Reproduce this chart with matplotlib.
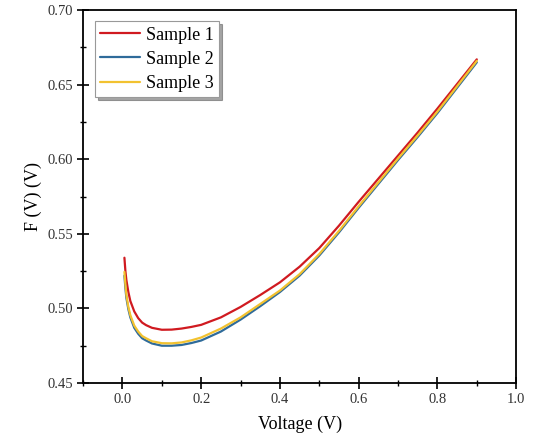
import matplotlib
matplotlib.use("Agg")
import matplotlib.pyplot as plt
from matplotlib.ticker import MultipleLocator

voltage = [0.005, 0.0075, 0.01, 0.015, 0.02, 0.03, 0.04, 0.05, 0.06, 0.075, 0.1, 0.125, 0.15, 0.175,
           0.2, 0.25, 0.3, 0.35, 0.4, 0.45, 0.5, 0.55, 0.6, 0.65, 0.7, 0.75, 0.8, 0.85, 0.9]
sample1 = [0.534, 0.525, 0.519, 0.511, 0.505, 0.498, 0.4935, 0.4905, 0.4888, 0.487, 0.4857, 0.4858,
           0.4865, 0.4876, 0.489, 0.494, 0.501, 0.509, 0.5175, 0.528, 0.5405, 0.5555, 0.5715, 0.587,
           0.6025, 0.618, 0.634, 0.6505, 0.667]
sample2 = [0.522, 0.5135, 0.507, 0.4995, 0.494, 0.487, 0.483, 0.480, 0.4785, 0.4765, 0.475, 0.4750,
           0.4755, 0.4768, 0.4785, 0.4845, 0.4925, 0.5015, 0.511, 0.522, 0.5355, 0.551, 0.5675, 0.5835,
           0.5995, 0.615, 0.631, 0.648, 0.665]
sample3 = [0.5245, 0.516, 0.509, 0.501, 0.4955, 0.4885, 0.4845, 0.4815, 0.480, 0.478, 0.4767, 0.4766,
           0.4772, 0.4786, 0.4805, 0.4865, 0.494, 0.503, 0.512, 0.523, 0.5365, 0.552, 0.5685, 0.5845,
           0.6005, 0.616, 0.632, 0.649, 0.666]

labels = ["Sample 1", "Sample 2", "Sample 3"]
colors = ["#d01a20", "#2f6b9a", "#f2c230"]

plt.rcParams["font.family"] = ["Liberation Serif", "DejaVu Serif"]

fig = plt.figure(figsize=(5.36, 4.41), dpi=100)
ax = fig.add_axes([0.155, 0.1315, 0.808, 0.8455])

for ys, lab, c in zip([sample1, sample2, sample3], labels, colors):
    ax.plot(voltage, ys, color=c, linewidth=1.6, label=lab, solid_capstyle="round")

ax.set_xlim(-0.1, 1.0)
ax.set_ylim(0.45, 0.70)
ax.xaxis.set_major_locator(MultipleLocator(0.2))
ax.xaxis.set_minor_locator(MultipleLocator(0.1))
ax.yaxis.set_major_locator(MultipleLocator(0.05))
ax.yaxis.set_minor_locator(MultipleLocator(0.025))
ax.xaxis.set_major_formatter(plt.FuncFormatter(lambda v, p: f"{v:.1f}"))
ax.yaxis.set_major_formatter(plt.FuncFormatter(lambda v, p: f"{v:.2f}"))

for s in ax.spines.values():
    s.set_linewidth(1.3)
ax.tick_params(which="major", direction="inout", length=8, width=1.2, labelsize=10.5,
               labelcolor="#333333", pad=3)
ax.tick_params(which="minor", direction="inout", length=4, width=1.0)
ax.tick_params(top=False, right=False, which="both")

ax.set_xlabel("Voltage (V)", fontsize=13, labelpad=7)
ax.set_ylabel("F (V) (V)", fontsize=13, labelpad=4)

leg = ax.legend(loc="upper left", bbox_to_anchor=(0.015, 0.985), fontsize=13, frameon=True,
                fancybox=False, shadow=True, edgecolor="#999999", handlelength=2.2,
                handletextpad=0.3, borderpad=0.3, labelspacing=0.4, borderaxespad=0.3)
leg.get_frame().set_linewidth(0.8)

fig.savefig("out.png", dpi=100)
